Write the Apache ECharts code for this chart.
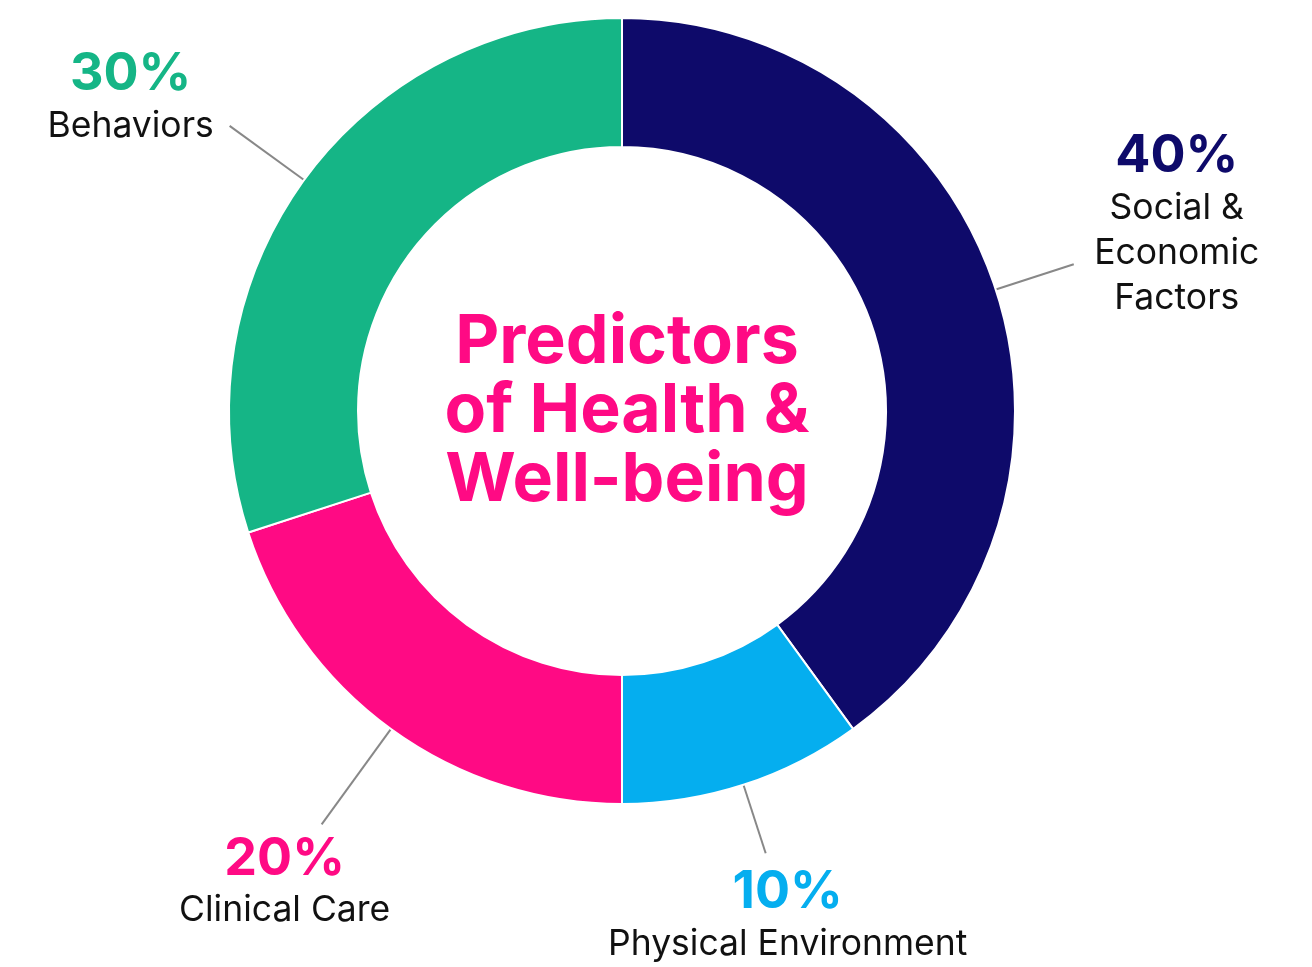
<!DOCTYPE html>
<html>
<head>
<meta charset="utf-8">
<script src="https://cdn.jsdelivr.net/npm/echarts@6/dist/echarts.min.js"></script>
<style>
  html, body { margin: 0; padding: 0; background: #fff; }
  #main { width: 1312px; height: 967px; }
</style>
</head>
<body>
<div id="main"></div>
<script>
// 数据
var names = ['Social &\nEconomic\nFactors', 'Physical Environment', 'Clinical Care', 'Behaviors'];
var values = [40, 10, 20, 30];
var colors = ['#0E0A6A', '#05AEEF', '#FF0A84', '#15B586'];

// 标签引线长度和标签偏移
var lineLen = [82, 72, 118, 92];
var labelOffset = [[103, -40], [22, 62], [-37, 57], [-99, -29]];

var cx = 622, cy = 411;
var font = 'Inter, "Noto Sans", sans-serif';

var chart = echarts.init(document.getElementById('main'));

var data = names.map(function (n, i) {
    return {
        name: n,
        value: values[i],
        itemStyle: { color: colors[i] },
        label: {
            rich: {
                p: { fontFamily: font, fontSize: 52, fontWeight: 'bold', color: colors[i], lineHeight: 58, align: 'center' },
                n: { fontFamily: font, fontSize: 35.5, color: '#111', lineHeight: 45, align: 'center' }
            }
        }
    };
});

var option = {
    backgroundColor: '#fff',
    animation: false,
    title: {
        text: 'Predictors\nof Health &\nWell-being',
        left: cx,
        top: 303,
        textAlign: 'center',
        textStyle: {
            fontFamily: font,
            fontSize: 68,
            fontWeight: 'bold',
            color: '#FF0A84',
            lineHeight: 69
        }
    },
    series: [
        {
            type: 'pie',
            center: [cx, cy],
            radius: [264, 393],
            startAngle: 90,
            clockwise: true,
            avoidLabelOverlap: false,
            itemStyle: { borderColor: '#fff', borderWidth: 2 },
            label: {
                show: true,
                position: 'outside',
                formatter: function (p) {
                    return '{p|' + p.value + '%}\n' + p.name.split('\n').map(function (s) {
                        return '{n|' + s + '}';
                    }).join('\n');
                }
            },
            labelLine: {
                show: true,
                length: 20,
                length2: 0,
                lineStyle: { color: '#888', width: 2 }
            },
            labelLayout: function (params) {
                var i = params.dataIndex;
                var s = params.labelLinePoints[0];
                var dx = s[0] - cx, dy = s[1] - cy;
                var d = Math.sqrt(dx * dx + dy * dy);
                var e = [s[0] + dx / d * lineLen[i], s[1] + dy / d * lineLen[i]];
                return {
                    x: e[0] + labelOffset[i][0],
                    y: e[1] + labelOffset[i][1],
                    align: 'center',
                    verticalAlign: 'middle',
                    labelLinePoints: [s, e, e]
                };
            },
            data: data
        }
    ]
};

chart.setOption(option);
</script>
</body>
</html>
